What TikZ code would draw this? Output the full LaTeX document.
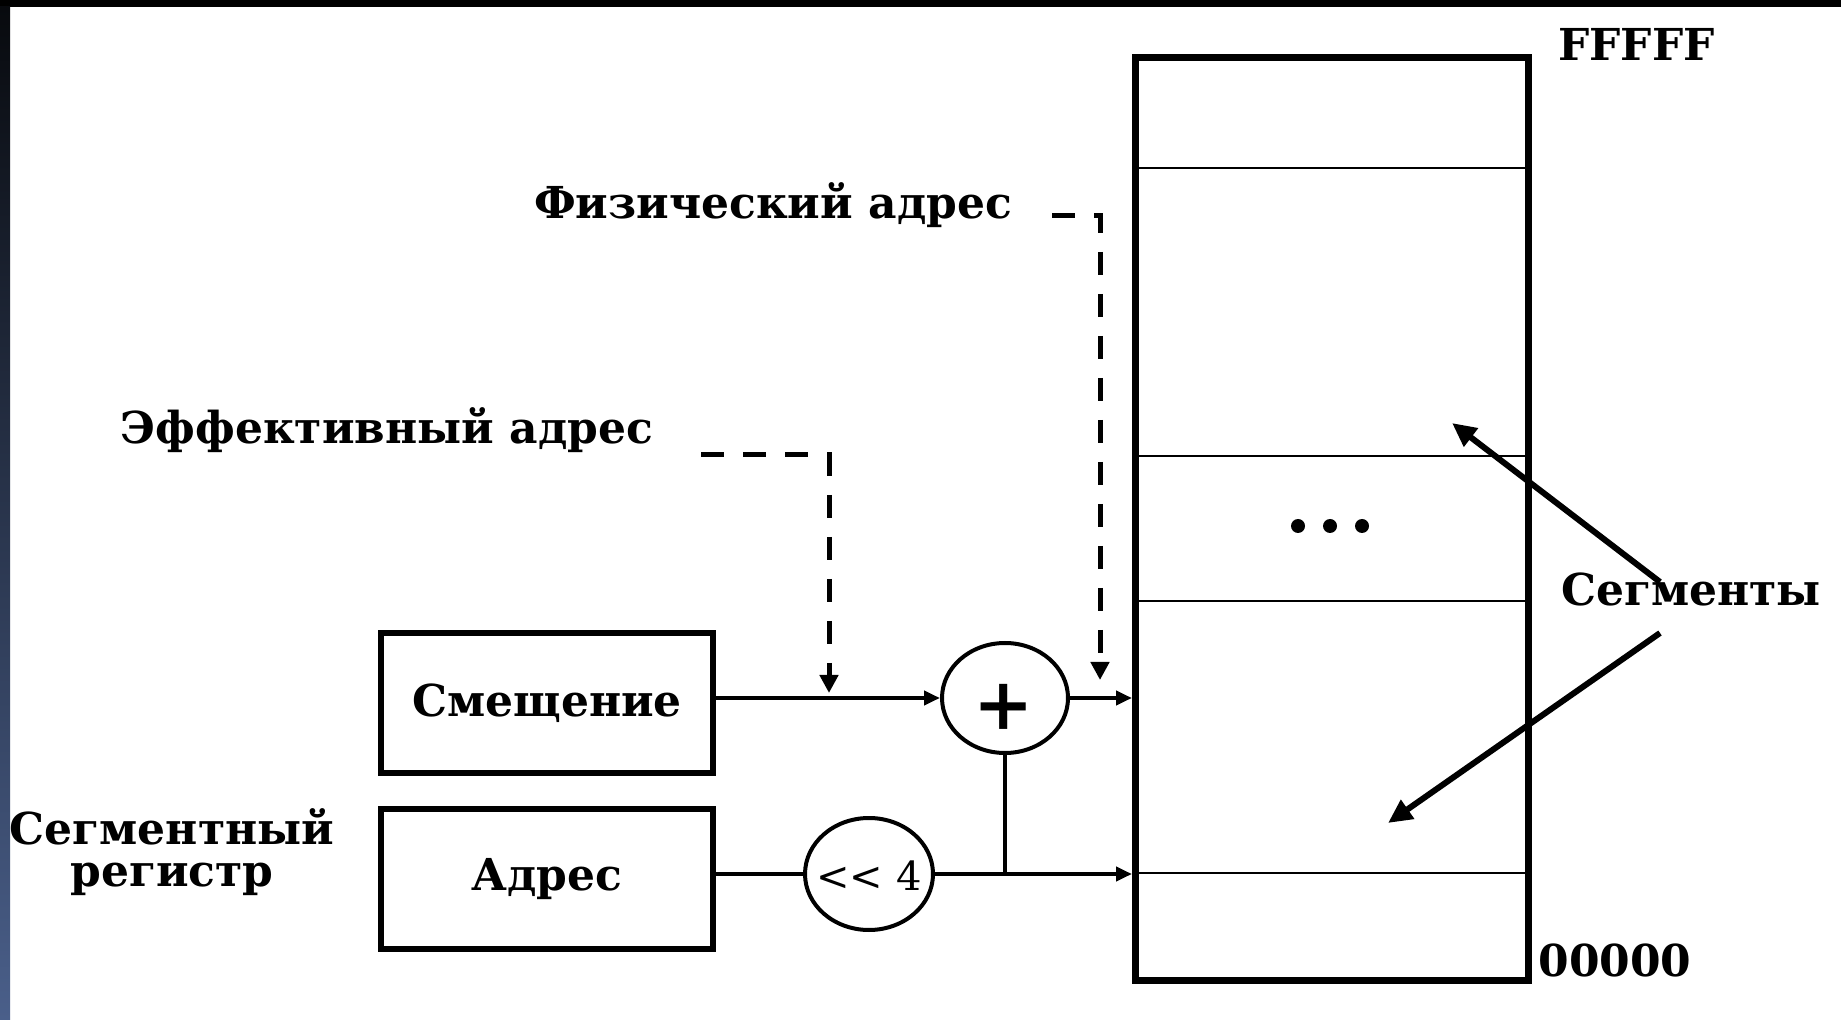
\documentclass[tikz,border=0pt]{standalone}
\usepackage{fontspec}
\setmainfont{DejaVu Serif}
\usetikzlibrary{arrows.meta,shapes.geometric,calc}
\definecolor{stripbot}{RGB}{74,95,138}
\definecolor{striptop}{RGB}{8,10,14}
\begin{document}
\begin{tikzpicture}[x=0.5pt,y=-0.5pt,
  lbl/.style={font=\fontsize{22}{24}\selectfont\bfseries, inner sep=0pt},
  regbox/.style={draw, line width=3pt, minimum width=166pt, minimum height=70pt, inner sep=0pt},
  opnode/.style={draw, ellipse, line width=2pt, inner sep=0pt},
  wire/.style={line width=2pt},
  conn/.style={wire, -{Triangle[length=8pt,width=7pt]}},
  dasharrow/.style={line width=2.5pt, dash pattern=on 11.5pt off 9.5pt, -{Triangle[length=9pt,width=9pt]}},
  segarrow/.style={line width=3pt, -{Triangle[length=12pt,width=11pt]}},
  divider/.style={line width=1pt}
]
\useasboundingbox (0,0) rectangle (1841,1020);
\fill[white] (0,0) rectangle (1841,1020);
\fill[black] (0,0) rectangle (1841,7);
\shade[top color=striptop, bottom color=stripbot] (0,7) rectangle (10,1020);

% memory
\node[draw, line width=3.5pt, minimum width=196.5pt, minimum height=461.5pt, inner sep=0pt] (mem) at (1332,519) {};
\foreach \yy in {168,456,601,873} {
  \draw[divider] (mem.west |- 0,\yy) -- (mem.east |- 0,\yy);
}
\foreach \xx in {1298,1330,1362} {
  \fill (\xx,526) circle (3.5pt);
}
\node[lbl, anchor=base west] (ffff) at (1558,61) {FFFFF};
\node[lbl, anchor=base west] (zeros) at (1538,976) {00000};

% registers
\node[regbox] (smesh) at (547,703) {\fontsize{22}{24}\selectfont\bfseries Смещение};
\node[regbox] (adres) at (547,879) {\fontsize{22}{24}\selectfont\bfseries Адрес};
\node[lbl, align=center] (segreg) at (172,852) {Сегментный\\[-3pt]регистр};

% operators
\node[opnode, minimum width=63pt, minimum height=55pt] (plus) at (1005,698) {};
\node[font=\fontsize{36}{36}\selectfont\bfseries] at (1004,707) {+};
\node[opnode, minimum width=64pt, minimum height=56pt] (shift) at (869,874) {};
\node[font=\fontsize{20}{22}\selectfont] at (869,876) {{<}{<} 4};

% connectors
\draw[conn] (smesh.east |- plus.west) -- (plus.west);
\draw[conn] (plus.east) -- (plus.east -| mem.west);
\draw[wire] (adres.east |- shift.west) -- (shift.west);
\draw[conn] (shift.east) -- (shift.east -| mem.west);
\draw[wire] (plus.south) -- (plus.south |- shift.east);

% labels with dashed arrows
\node[lbl] (fiz) at (773,205) {Физический адрес};
\node[lbl] (eff) at (387,430) {Эффективный адрес};
\coordinate (fizA) at (1052,216);
\coordinate (fizB) at (1100,680);
\coordinate (effA) at (701,455);
\coordinate (effB) at (829,693);
\draw[dasharrow] (fizA) -| (fizB);
\draw[dasharrow] (effA) -| (effB);

% segments
\node[lbl] (segm) at (1691,589) {Сегменты};
\coordinate (segtipA) at (1452,423);
\coordinate (segtipB) at (1388,823);
\draw[segarrow] ($(segm.center)+(-31,-7)$) -- (segtipA);
\draw[segarrow] ($(segm.center)+(-31,44)$) -- (segtipB);
\end{tikzpicture}
\end{document}
